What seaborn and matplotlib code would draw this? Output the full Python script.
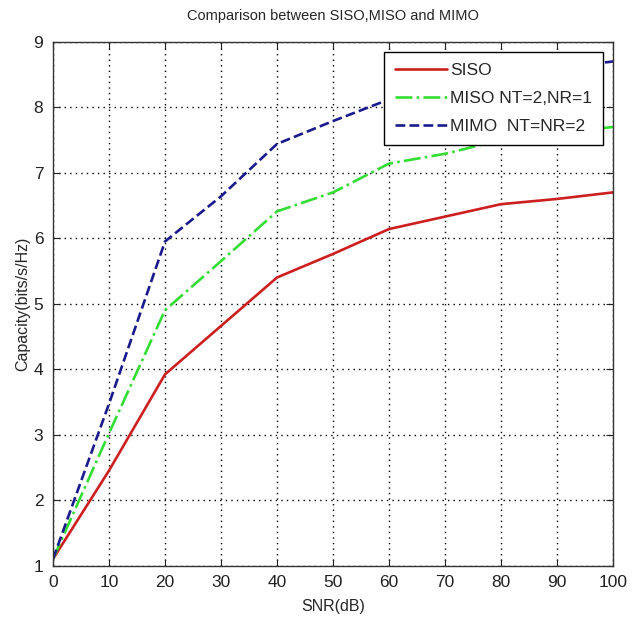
import numpy as np
import pandas as pd
import matplotlib
matplotlib.use("Agg")
import matplotlib.pyplot as plt
import seaborn as sns

snr = [0, 10, 20, 30, 40, 50, 60, 70, 80, 90, 100]
siso = [1.1, 2.45, 3.92, 4.66, 5.4, 5.76, 6.14, 6.33, 6.52, 6.6, 6.7]
miso = [1.1, 3.02, 4.9, 5.65, 6.41, 6.7, 7.14, 7.29, 7.5, 7.6, 7.7]
mimo = [1.1, 3.47, 5.95, 6.64, 7.44, 7.79, 8.12, 8.3, 8.5, 8.6, 8.7]
labels = ['SISO', 'MISO NT=2,NR=1', 'MIMO  NT=NR=2']

sns.set_style("ticks")
plt.rcParams['font.family'] = ['Liberation Sans', 'DejaVu Sans']

fig = plt.figure(figsize=(6.4, 6.19), dpi=100)
ax = fig.add_axes([0.0828, 0.0864, 0.875, 0.846])

styles = [('#cc1f1f', '-', 1.9), ('#33dd33', '-.', 1.9), ('#1a1a8c', '--', 1.9)]
for vals, lab, (c, ls, lw) in zip([siso, miso, mimo], labels, styles):
    df = pd.DataFrame({'SNR': snr, 'Cap': vals})
    sns.lineplot(data=df, x='SNR', y='Cap', ax=ax, color=c, linestyle=ls,
                 linewidth=lw, label=lab)

ax.set_xlim(0, 100)
ax.set_ylim(1, 9)
ax.set_xticks(range(0, 101, 10))
ax.set_yticks(range(1, 10))
ax.grid(True, linestyle=(0, (1, 3)), color='black', linewidth=1.0)
ax.tick_params(direction='in', top=True, right=True, labelsize=12.5,
               length=5, pad=7, colors='#222222')
for s in ax.spines.values():
    s.set_color('#333333')
    s.set_linewidth(1.0)

ax.set_xlabel('SNR(dB)', fontsize=11.5, labelpad=6)
ax.set_ylabel('Capacity(bits/s/Hz)', fontsize=11.5, labelpad=2)
ax.set_title('Comparison between SISO,MISO and MIMO', fontsize=10.5, pad=16)

leg = ax.legend(loc='upper right', fontsize=12.5, frameon=True, fancybox=False,
                edgecolor='black', framealpha=1, borderaxespad=0.6,
                handlelength=3.0, handletextpad=0.2, labelspacing=0.75,
                borderpad=0.6)
leg.get_frame().set_linewidth(1.0)

plt.savefig('out.png', dpi=100)
